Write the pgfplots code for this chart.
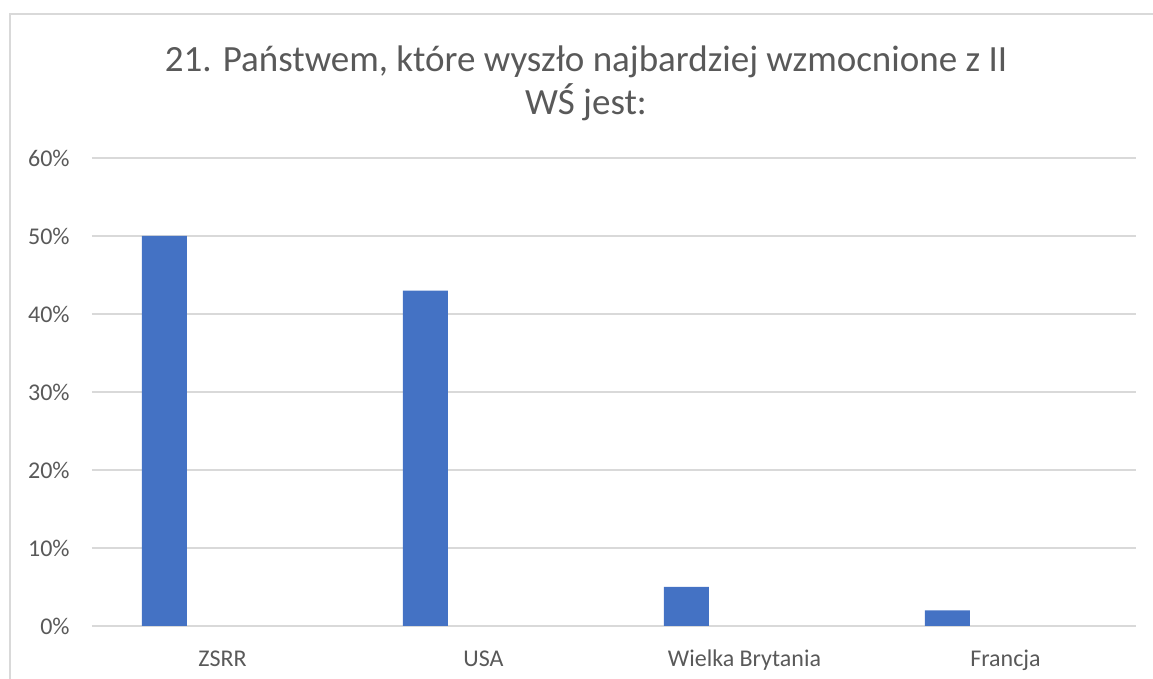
\documentclass[border=0pt]{standalone}
\usepackage{fontspec}
\setmainfont{Carlito}
\usepackage{pgfplots}
\pgfplotsset{compat=1.18}
\definecolor{barblue}{HTML}{4472C4}
\definecolor{txtgray}{HTML}{595959}
\definecolor{gridgray}{HTML}{D9D9D9}
\begin{document}
\begin{tikzpicture}[x=0.5pt,y=0.5pt]
\useasboundingbox (0,0) rectangle (1153,679);
% chart frame (cut at right and bottom like the screenshot)
\draw[gridgray, line width=1.2pt] (10,-10) -- (10,665) -- (1170,665);
\node[text=txtgray, font=\fontsize{18.5}{21.5}\selectfont, align=center]
  at (586,596) {21. Państwem, które wyszło najbardziej wzmocnione z II\\WŚ jest:};
\begin{axis}[
  at={(46pt,26.5pt)}, anchor=south west,
  scale only axis,
  width=522pt, height=234pt,
  xmin=-0.5, xmax=3.5,
  ymin=0, ymax=60,
  ybar,
  bar width=22.5pt,
  bar shift=-29pt,
  axis line style={draw=none},
  ymajorgrids,
  grid style={gridgray, line width=0.7pt},
  major tick style={draw=none},
  xtick={0,1,2,3},
  xticklabels={ZSRR,USA,Wielka Brytania,Francja},
  ytick={0,10,20,30,40,50,60},
  yticklabel={\pgfmathprintnumber{\tick}\%},
  /pgf/number format/assume math mode=true,
  xticklabel style={font=\fontsize{12}{14}\selectfont, text=txtgray, anchor=base, yshift=-16pt},
  yticklabel style={font=\fontsize{12}{14}\selectfont, text=txtgray, anchor=east, inner sep=0pt, xshift=-11pt},
]
\addplot[fill=barblue, draw=none] coordinates {(0,50) (1,43) (2,5) (3,2)};
\end{axis}
\end{tikzpicture}
\end{document}
